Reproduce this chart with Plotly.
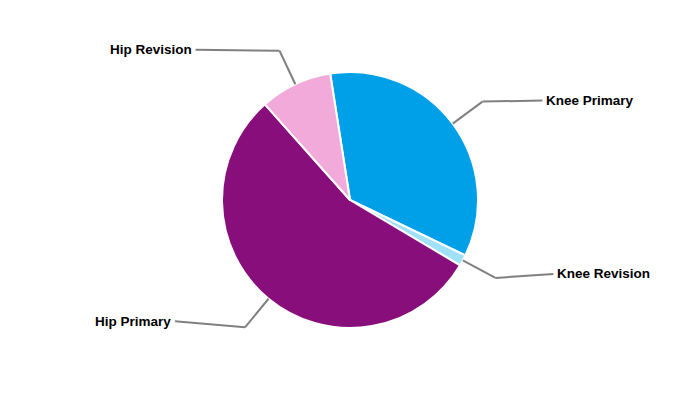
import math
import plotly.graph_objects as go

labels = ["Knee Primary", "Knee Revision", "Hip Primary", "Hip Revision"]
values = [34.6, 1.4, 54.9, 9.1]
colors = ["#00A0E9", "#A0E0F8", "#880F7B", "#F1AADA"]

W, H = 700, 400
OFF = 8  # page body margin offset
R = 128
CX, CY = 350, 200  # desired pie centre in the window
ML, MR = 0, 2 * (W / 2 - (CX - OFF))
MT = (CY - OFF) - R
MB = H - MT - 2 * R
ROT = -8.9

fig = go.Figure(go.Pie(
    labels=labels, values=values, sort=False, direction="clockwise",
    rotation=ROT, textinfo="none", hoverinfo="label+percent",
    marker=dict(colors=colors, line=dict(color="white", width=2)),
    domain=dict(x=[0, 1], y=[0, 1]), showlegend=False,
))

def px(x):
    return (x - OFF - ML) / (W - ML - MR)

def py(y):
    return (H - MB - (y - OFF)) / (H - MT - MB)

# leader line layout (horizontal run length, end y offset)
runs = [60, 58, 70, 84]
dys = [-1, -4, -6, -1]
EXT = 37

total = sum(values)
cum = 0
shapes = []
annotations = []
for lab, v, run, dy in zip(labels, values, runs, dys):
    mid = ROT + (cum + v / 2) / total * 360
    cum += v
    a = math.radians(mid)
    sx, sy = CX + R * math.sin(a), CY - R * math.cos(a)
    ex, ey = CX + (R + EXT) * math.sin(a), CY - (R + EXT) * math.cos(a)
    right = math.sin(a) >= 0
    lx = ex + run if right else ex - run
    ly = ey + dy
    for (x0, y0, x1, y1) in [(sx, sy, ex, ey), (ex, ey, lx, ly)]:
        shapes.append(dict(type="line", xref="paper", yref="paper",
                           x0=px(x0), y0=py(y0), x1=px(x1), y1=py(y1),
                           line=dict(color="#808080", width=2)))
    annotations.append(dict(
        x=px(lx + (2 if right else -2)), y=py(ly), xref="paper", yref="paper",
        text=f"<b>{lab}</b>", showarrow=False,
        xanchor="left" if right else "right", yanchor="middle",
        font=dict(family="Liberation Sans, Arial, sans-serif", size=13.5, color="#000000"),
    ))

fig.update_layout(
    width=W, height=H, margin=dict(l=ML, r=MR, t=MT, b=MB),
    paper_bgcolor="white", plot_bgcolor="white",
    shapes=shapes, annotations=annotations,
)

fig.write_html("out.html")
